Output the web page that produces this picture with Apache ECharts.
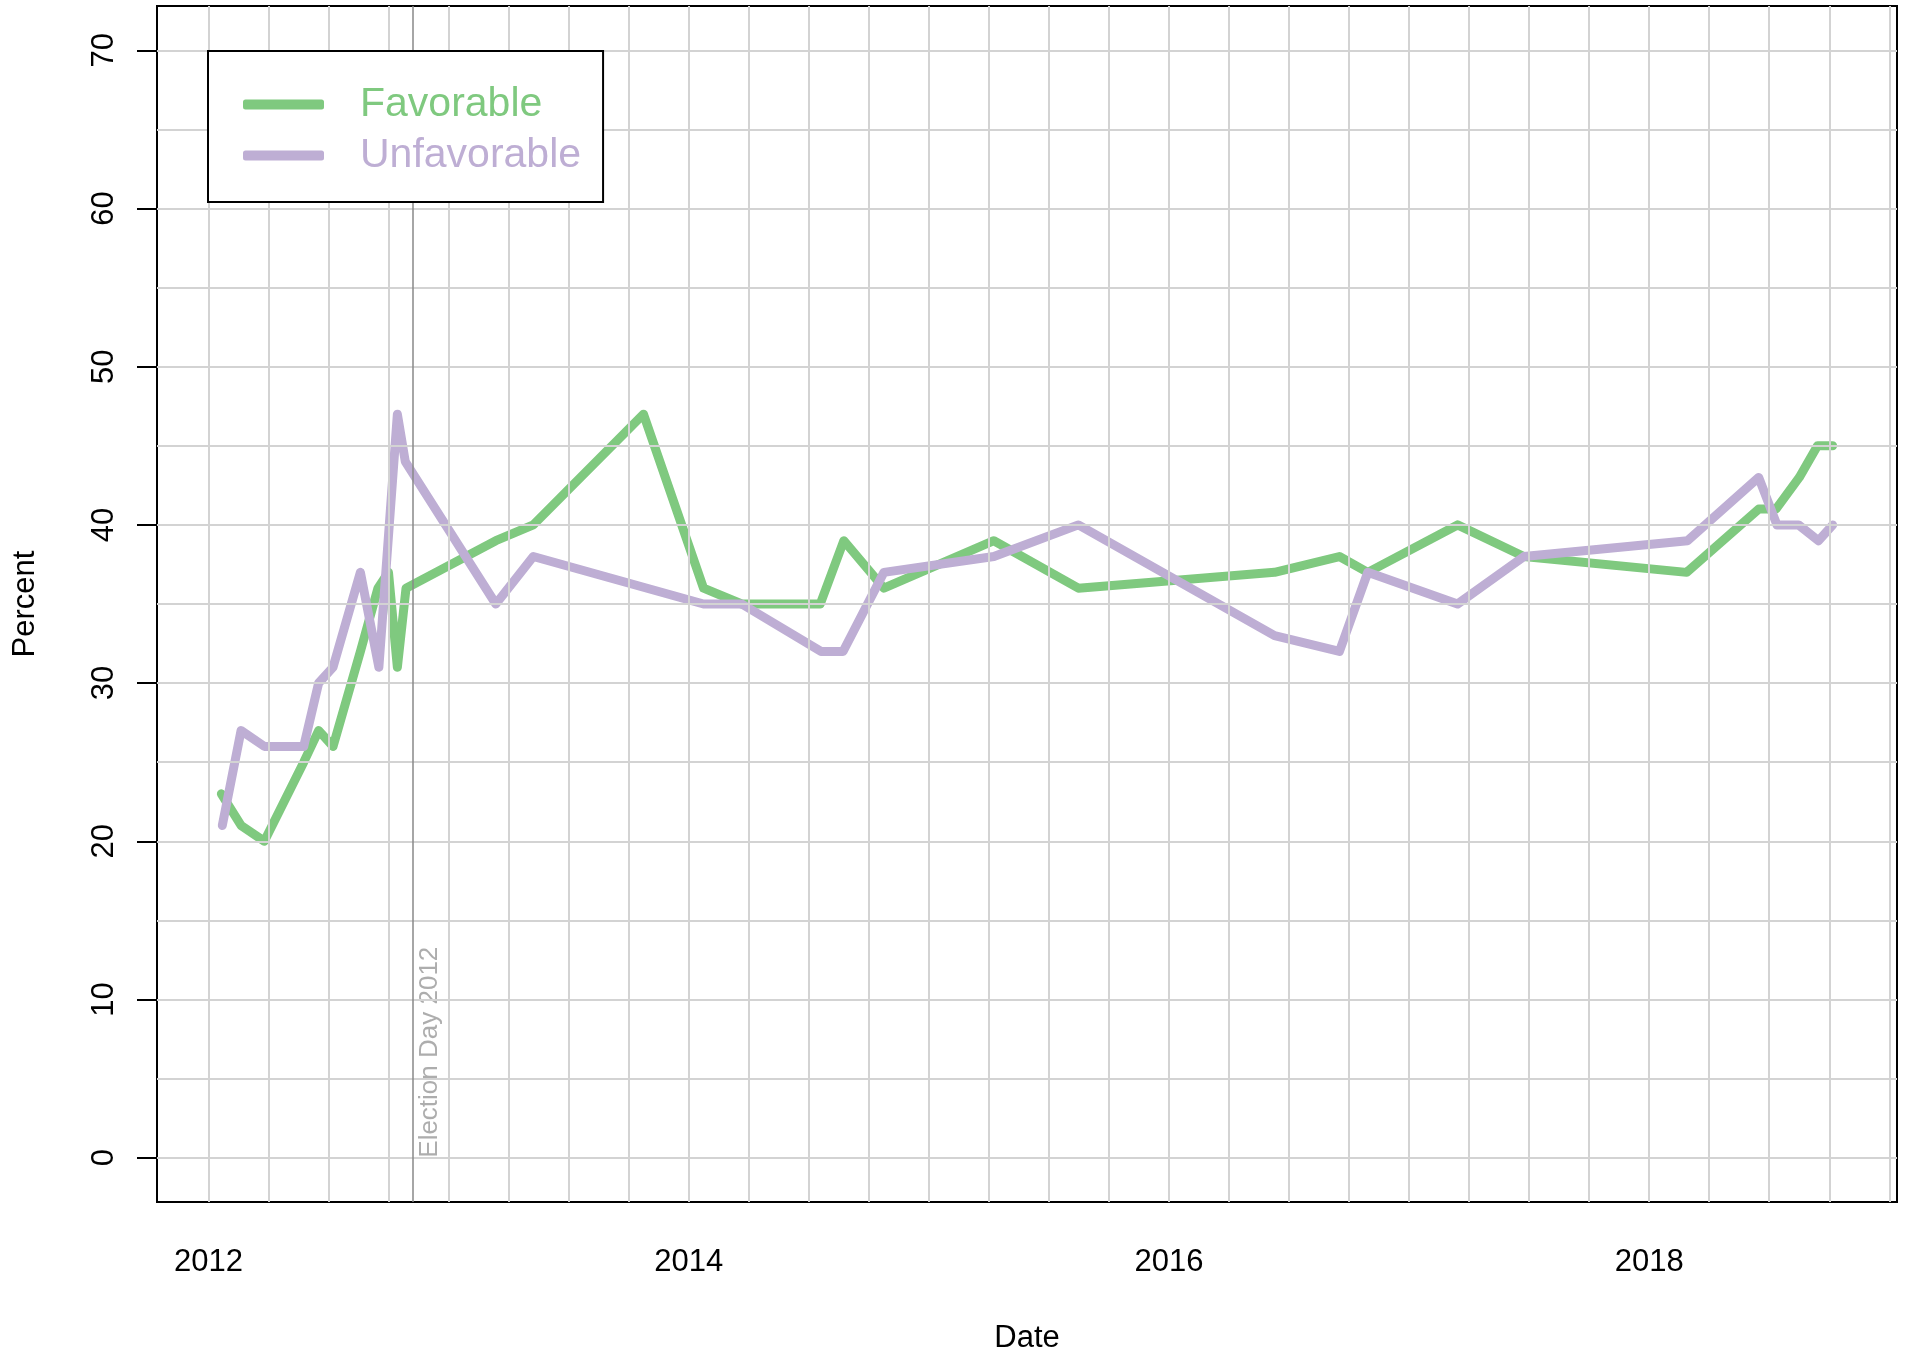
<!DOCTYPE html>
<html>
<head>
<meta charset="utf-8">
<script src="https://cdn.jsdelivr.net/npm/echarts@6/dist/echarts.min.js"></script>
<style>
html,body{margin:0;padding:0;background:#fff;}
#chart{width:1907px;height:1359px;}
</style>
</head>
<body>
<div id="chart"></div>
<script>
// ---- data (decimal year, percent) ----
const favorableDates = [2012.054, 2012.136, 2012.233, 2012.397, 2012.459, 2012.519, 2012.633, 2012.706, 2012.75, 2012.787, 2012.823, 2013.197, 2013.353, 2013.812, 2014.062, 2014.221, 2014.548, 2014.646, 2014.813, 2015.271, 2015.623, 2016.44, 2016.71, 2016.828, 2017.202, 2017.478, 2018.156, 2018.456, 2018.528, 2018.625, 2018.701, 2018.764];
const favorableValues = [23, 21, 20, 25, 27, 26, 32, 36, 37, 31, 36, 39, 40, 47, 36, 35, 35, 39, 36, 39, 36, 37, 38, 37, 40, 38, 37, 41, 41, 43, 45, 45];
const unfavorableDates = [2012.058, 2012.136, 2012.233, 2012.397, 2012.459, 2012.519, 2012.633, 2012.71, 2012.787, 2012.82, 2013.197, 2013.353, 2014.062, 2014.221, 2014.551, 2014.643, 2014.813, 2015.271, 2015.623, 2016.44, 2016.71, 2016.828, 2017.202, 2017.478, 2018.16, 2018.456, 2018.532, 2018.622, 2018.705, 2018.764];
const unfavorableValues = [21, 27, 26, 26, 30, 31, 37, 31, 47, 44, 35, 38, 35, 35, 32, 32, 37, 38, 40, 33, 32, 37, 35, 38, 39, 43, 40, 40, 39, 40];
const seriesNames = ['Favorable', 'Unfavorable'];
const electionDay = 2012.847;
const electionLabel = 'Election Day 2012';
const xTickValues = [2012, 2014, 2016, 2018];
const yTickValues = [0, 10, 20, 30, 40, 50, 60, 70];
const yGridValues = [0, 5, 10, 15, 20, 25, 30, 35, 40, 45, 50, 55, 60, 65, 70];
const xGridValues = [2012, 2012.25, 2012.5, 2012.75, 2013, 2013.25, 2013.5, 2013.75, 2014, 2014.25, 2014.5, 2014.75, 2015, 2015.25, 2015.5, 2015.75, 2016, 2016.25, 2016.5, 2016.75, 2017, 2017.25, 2017.5, 2017.75, 2018, 2018.25, 2018.5, 2018.75, 2019];

const GREEN = '#7FC97F', PURPLE = '#BEAED4';
const FONT = '"Liberation Sans", Arial, Helvetica, sans-serif';

const zip = (xs, ys) => xs.map((x, i) => [x, ys[i]]);

const chart = echarts.init(document.getElementById('chart'), null, {renderer: 'canvas'});
chart.setOption({
  animation: false,
  backgroundColor: '#fff',
  textStyle: {fontFamily: FONT},
  grid: {left: 157, right: 10, top: 6, bottom: 151, show: true, borderColor: '#000', borderWidth: 2, backgroundColor: 'transparent', containLabel: false},
  legend: {
    orient: 'vertical', left: 208, top: 51, z: 100, zlevel: 1,
    padding: [33, 22, 26, 35], itemGap: 10,
    backgroundColor: '#fff', borderColor: '#000', borderWidth: 2,
    icon: 'roundRect', itemWidth: 81, itemHeight: 10,
    textStyle: {fontSize: 41, fontFamily: FONT, padding: [0, 0, 0, 31]},
    data: [
      {name: seriesNames[0], textStyle: {color: GREEN}},
      {name: seriesNames[1], textStyle: {color: PURPLE}}
    ]
  },
  xAxis: {
    type: 'value', min: 2011.786, max: 2019.032,
    name: 'Date', nameLocation: 'middle', nameGap: 121,
    nameTextStyle: {fontSize: 31, color: '#000', fontFamily: FONT},
    axisLine: {show: true, lineStyle: {color: '#000', width: 2}},
    axisTick: {show: true, length: 20, lineStyle: {color: '#000', width: 2}, customValues: xTickValues},
    axisLabel: {show: true, fontSize: 31, color: '#000', margin: 45, customValues: xTickValues, formatter: v => String(Math.round(v))},
    splitLine: {show: false}
  },
  yAxis: {
    type: 'value', min: -2.8, max: 72.8,
    name: 'Percent', nameLocation: 'middle', nameGap: 116,
    nameTextStyle: {fontSize: 31, color: '#000', fontFamily: FONT},
    axisLine: {show: true, lineStyle: {color: '#000', width: 2}},
    axisTick: {show: true, length: 20, lineStyle: {color: '#000', width: 2}, customValues: yTickValues},
    axisLabel: {show: true, fontSize: 31, color: '#000', margin: 37, rotate: 90, customValues: yTickValues, formatter: v => String(Math.round(v))},
    splitLine: {show: false}
  },
  series: [
    {
      name: 'grid', type: 'line', data: [], silent: true, z: 1,
      markLine: {
        silent: true, symbol: ['none', 'none'], animation: false,
        label: {show: false},
        lineStyle: {color: '#D3D3D3', width: 2, type: 'solid'},
        emphasis: {disabled: true},
        data: yGridValues.map(v => ({yAxis: v})).concat(xGridValues.map(v => ({xAxis: v})))
      }
    },
    {
      name: 'election', type: 'scatter', z: 2, silent: true,
      data: [[electionDay, 0]], symbolSize: 0,
      label: {show: true, formatter: electionLabel, rotate: 90, position: [5, 0], align: 'left', verticalAlign: 'top', fontSize: 26, color: '#999999', fontFamily: FONT},
      markLine: {
        silent: true, symbol: ['none', 'none'], animation: false,
        label: {show: false},
        lineStyle: {color: '#888888', width: 1.5, type: 'solid'},
        emphasis: {disabled: true},
        data: [{xAxis: electionDay}]
      }
    },
    {
      name: seriesNames[0], type: 'line', z: 3, showSymbol: false, symbol: 'none',
      data: zip(favorableDates, favorableValues),
      itemStyle: {color: GREEN},
      lineStyle: {color: GREEN, width: 9, cap: 'round', join: 'round'}
    },
    {
      name: seriesNames[1], type: 'line', z: 4, showSymbol: false, symbol: 'none',
      data: zip(unfavorableDates, unfavorableValues),
      itemStyle: {color: PURPLE},
      lineStyle: {color: PURPLE, width: 9, cap: 'round', join: 'round'}
    }
  ]
});
</script>
</body>
</html>
